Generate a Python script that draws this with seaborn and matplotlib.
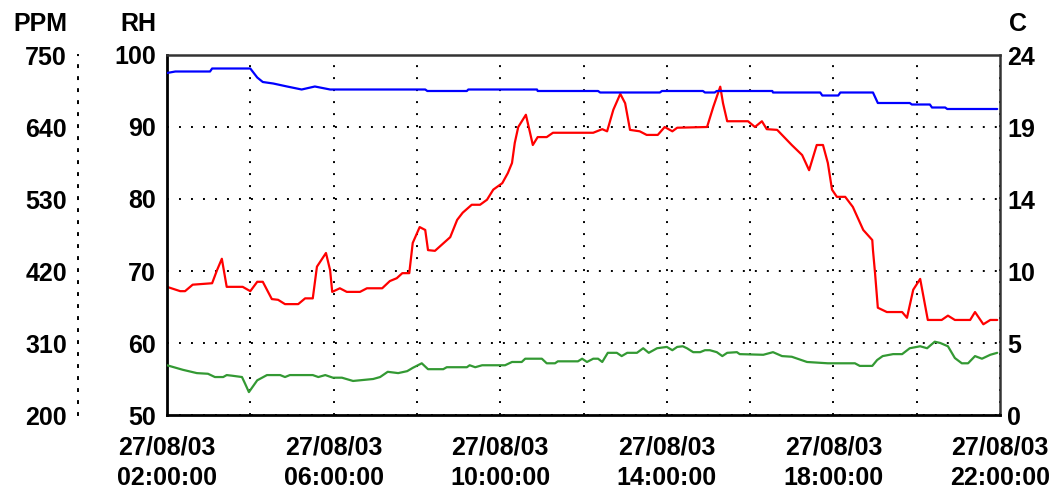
import pandas as pd
import matplotlib
matplotlib.use("Agg")
import matplotlib.pyplot as plt
import matplotlib.dates as mdates
from matplotlib.ticker import FixedLocator, FixedFormatter
import seaborn as sns

DAY = "2003-08-27"

# Relative humidity (%), red trace
rh_time = [
    "02:00", "02:19", "02:26", "02:37", "03:05", "03:12", "03:19", "03:26", "03:49", "04:00",
    "04:10", "04:18", "04:31", "04:40", "04:50", "05:09", "05:19", "05:30", "05:36", "05:49",
    "05:55", "05:58", "06:09", "06:19", "06:38", "06:48", "07:10", "07:21", "07:31", "07:39",
    "07:49", "07:54", "08:04", "08:12", "08:16", "08:26", "08:48", "08:58", "09:06", "09:19",
    "09:31", "09:41", "09:50", "10:03", "10:11", "10:17", "10:21", "10:26", "10:37", "10:43",
    "10:47", "10:54", "11:07", "11:16", "12:14", "12:27", "12:34", "12:43", "12:53", "13:00",
    "13:07", "13:21", "13:31", "13:47", "13:57", "14:08", "14:15", "14:58", "15:07", "15:17",
    "15:21", "15:27", "15:57", "16:07", "16:17", "16:24", "16:39", "17:00", "17:15", "17:25",
    "17:36", "17:45", "17:52", "17:58", "18:05", "18:17", "18:28", "18:43", "18:56", "18:57",
    "19:00", "19:04", "19:17", "19:39", "19:46", "19:55", "20:05", "20:16", "20:36", "20:45",
    "20:55", "21:17", "21:24", "21:36", "21:46", "21:56",
]
rh_value = [
    67.8, 67.2, 67.2, 68.1, 68.3, 70.1, 71.7, 67.8, 67.8, 67.2,
    68.5, 68.5, 66.1, 66.0, 65.4, 65.4, 66.2, 66.2, 70.6, 72.5,
    70.1, 67.1, 67.6, 67.1, 67.1, 67.6, 67.6, 68.6, 69.0, 69.7,
    69.7, 73.9, 76.1, 75.7, 72.9, 72.8, 74.7, 77.1, 78.1, 79.2,
    79.2, 79.9, 81.3, 82.2, 83.6, 85.0, 87.8, 90.0, 91.7, 89.2,
    87.5, 88.6, 88.6, 89.2, 89.2, 89.7, 89.4, 92.4, 94.6, 93.3,
    89.6, 89.4, 88.9, 88.9, 90.0, 89.4, 89.9, 90.0, 92.8, 95.6,
    93.3, 90.8, 90.8, 90.0, 90.8, 89.7, 89.6, 87.5, 86.1, 84.0,
    87.5, 87.5, 85.0, 81.3, 80.3, 80.3, 78.9, 75.7, 74.3, 72.9,
    69.7, 64.9, 64.3, 64.3, 63.5, 67.4, 68.9, 63.2, 63.2, 63.8,
    63.2, 63.2, 64.3, 62.6, 63.2, 63.2,
]

# Temperature (C), blue trace
temp_time = [
    "02:00", "02:12", "03:02", "03:05", "04:00", "04:10", "04:18", "04:33", "04:53", "05:14",
    "05:33", "05:55", "08:12", "08:15", "09:12", "09:14", "10:53", "10:54", "12:21", "12:24",
    "13:50", "13:53", "14:52", "14:55", "15:09", "15:12", "16:32", "16:33", "17:41", "17:44",
    "18:07", "18:10", "18:57", "19:04", "19:50", "19:53", "20:19", "20:22", "20:41", "20:44",
    "21:56",
]
temp_value = [
    22.8, 22.9, 22.9, 23.1, 23.1, 22.5, 22.2, 22.1, 21.9, 21.7,
    21.9, 21.7, 21.7, 21.6, 21.6, 21.7, 21.7, 21.6, 21.6, 21.5,
    21.5, 21.6, 21.6, 21.5, 21.5, 21.6, 21.6, 21.5, 21.5, 21.3,
    21.3, 21.5, 21.5, 20.8, 20.8, 20.7, 20.7, 20.5, 20.5, 20.4,
    20.4,
]

# CO2 concentration (PPM), green trace
ppm_time = [
    "02:00", "02:23", "02:43", "02:59", "03:09", "03:21", "03:26", "03:34", "03:48", "03:52",
    "03:58", "04:10", "04:24", "04:43", "04:50", "04:57", "05:30", "05:38", "05:48", "05:59",
    "06:12", "06:28", "06:57", "07:07", "07:18", "07:33", "07:46", "07:54", "08:07", "08:16",
    "08:38", "08:43", "09:12", "09:16", "09:24", "09:34", "10:07", "10:17", "10:31", "10:36",
    "11:00", "11:07", "11:19", "11:23", "11:52", "11:58", "12:05", "12:14", "12:21", "12:27",
    "12:35", "12:48", "12:55", "13:03", "13:17", "13:26", "13:34", "13:46", "14:00", "14:08",
    "14:15", "14:23", "14:29", "14:38", "14:48", "14:55", "15:02", "15:12", "15:20", "15:27",
    "15:41", "15:45", "16:19", "16:33", "16:46", "17:00", "17:22", "17:52", "18:31", "18:38",
    "18:56", "19:03", "19:11", "19:26", "19:39", "19:50", "20:05", "20:15", "20:26", "20:34",
    "20:45", "20:55", "21:05", "21:14", "21:24", "21:34", "21:46", "21:56",
]
ppm_value = [
    276, 269, 264, 263, 258, 258, 261, 260, 258, 249,
    235, 253, 261, 261, 258, 261, 261, 258, 261, 257,
    257, 252, 255, 258, 266, 264, 267, 272, 279, 270,
    270, 273, 273, 276, 273, 276, 276, 281, 281, 286,
    286, 279, 279, 282, 282, 286, 281, 286, 286, 281,
    295, 295, 290, 295, 295, 302, 295, 302, 304, 299,
    304, 305, 302, 296, 296, 299, 299, 296, 290, 295,
    296, 293, 292, 296, 290, 289, 281, 279, 279, 275,
    275, 284, 290, 293, 293, 302, 305, 302, 312, 310,
    305, 287, 279, 279, 290, 286, 292, 295,
]

rh_ticks = [50, 60, 70, 80, 90, 100]
ppm_ticks = [200, 310, 420, 530, 640, 750]
temp_ticks = [0, 4.8, 9.6, 14.4, 19.2, 24]
temp_tick_labels = ["0", "5", "10", "14", "19", "24"]
x_start, x_end = "02:00", "22:00"

W, H = 1051, 494
FS = 18


def series(times, values, name):
    stamps = pd.to_datetime([f"{DAY} {t}" for t in times])
    return pd.DataFrame({"time": stamps, name: values})


sns.set_theme(style="white")
plt.rcParams["font.family"] = ["Liberation Sans", "DejaVu Sans"]
plt.rcParams["font.weight"] = "bold"
plt.rcParams["text.color"] = "black"
plt.rcParams["xtick.color"] = "black"
plt.rcParams["ytick.color"] = "black"
plt.rcParams["xtick.labelcolor"] = "black"
plt.rcParams["ytick.labelcolor"] = "black"

fig = plt.figure(figsize=(W / 100, H / 100), dpi=100)
fig.patch.set_facecolor("white")
ax = fig.add_axes([167 / W, 1 - 415 / H, 833 / W, 360 / H])
ax_ppm = ax.twinx()
ax_c = ax.twinx()

sns.lineplot(data=series(rh_time, rh_value, "rh"), x="time", y="rh",
             ax=ax, color="#ff0000", linewidth=1.6, legend=False)
sns.lineplot(data=series(ppm_time, ppm_value, "ppm"), x="time", y="ppm",
             ax=ax_ppm, color="#339933", linewidth=1.6, legend=False)
sns.lineplot(data=series(temp_time, temp_value, "temp"), x="time", y="temp",
             ax=ax_c, color="#0000ff", linewidth=1.6, legend=False)

for a in (ax, ax_ppm, ax_c):
    a.set_xlabel("")
    a.set_ylabel("")

ax.set_xlim(pd.Timestamp(f"{DAY} {x_start}"), pd.Timestamp(f"{DAY} {x_end}"))
ax.set_ylim(rh_ticks[0], rh_ticks[-1])
ax_ppm.set_ylim(ppm_ticks[0], ppm_ticks[-1])
ax_c.set_ylim(temp_ticks[0], temp_ticks[-1])

# time axis: labels every 4 hours, grid every 2 hours
ax.xaxis.set_major_locator(mdates.HourLocator(byhour=range(2, 23, 4)))
ax.xaxis.set_minor_locator(mdates.HourLocator(byhour=range(0, 24, 2)))
ax.xaxis.set_major_formatter(mdates.DateFormatter("%d/%m/%y\n%H:%M:%S"))
ax.tick_params(axis="x", which="both", length=0, pad=15, labelsize=FS)
for lbl in ax.get_xticklabels():
    lbl.set_linespacing(1.35)
    lbl.set_fontweight("bold")

ax.yaxis.set_major_locator(FixedLocator(rh_ticks))
ax.tick_params(axis="y", length=0, pad=8, labelsize=FS)

ax_ppm.yaxis.set_major_locator(FixedLocator(ppm_ticks))
ax_ppm.yaxis.set_ticks_position("left")
ax_ppm.yaxis.set_label_position("left")
ax_ppm.tick_params(axis="y", length=0, pad=8, labelsize=FS)

ax_c.yaxis.set_major_locator(FixedLocator(temp_ticks))
ax_c.yaxis.set_major_formatter(FixedFormatter(temp_tick_labels))
ax_c.tick_params(axis="y", length=0, pad=5, labelsize=FS)

for a in (ax_ppm, ax_c):
    for s in a.spines.values():
        s.set_visible(False)

# dotted PPM scale line to the left of the RH scale
sp = ax_ppm.spines["left"]
sp.set_visible(True)
sp.set_position(("outward", 64))
sp.set_color("black")
sp.set_linewidth(1.4)
sp.set_linestyle((0, (1, 5.17)))

for side in ("left", "bottom"):
    ax.spines[side].set_color("black")
    ax.spines[side].set_linewidth(2)
for side in ("top", "right"):
    ax.spines[side].set_color("#333333")
    ax.spines[side].set_linewidth(1.8)

ax.grid(True, which="both", axis="x", color="black", linewidth=1.4,
        linestyle=(0, (1, 5.17)))
ax.grid(True, which="major", axis="y", color="black", linewidth=1.4,
        linestyle=(0, (1, 5.17)))
ax.set_axisbelow(True)

for a in (ax, ax_ppm, ax_c):
    for lbl in a.get_yticklabels():
        lbl.set_fontweight("bold")

fig.text(67 / W, 1 - 31 / H, "PPM", ha="right", va="baseline", fontsize=FS, fontweight="bold")
fig.text(156 / W, 1 - 31 / H, "RH", ha="right", va="baseline", fontsize=FS, fontweight="bold")
fig.text(1009 / W, 1 - 31 / H, "C", ha="left", va="baseline", fontsize=FS, fontweight="bold")

fig.savefig("out.png", dpi=100, facecolor="white")
